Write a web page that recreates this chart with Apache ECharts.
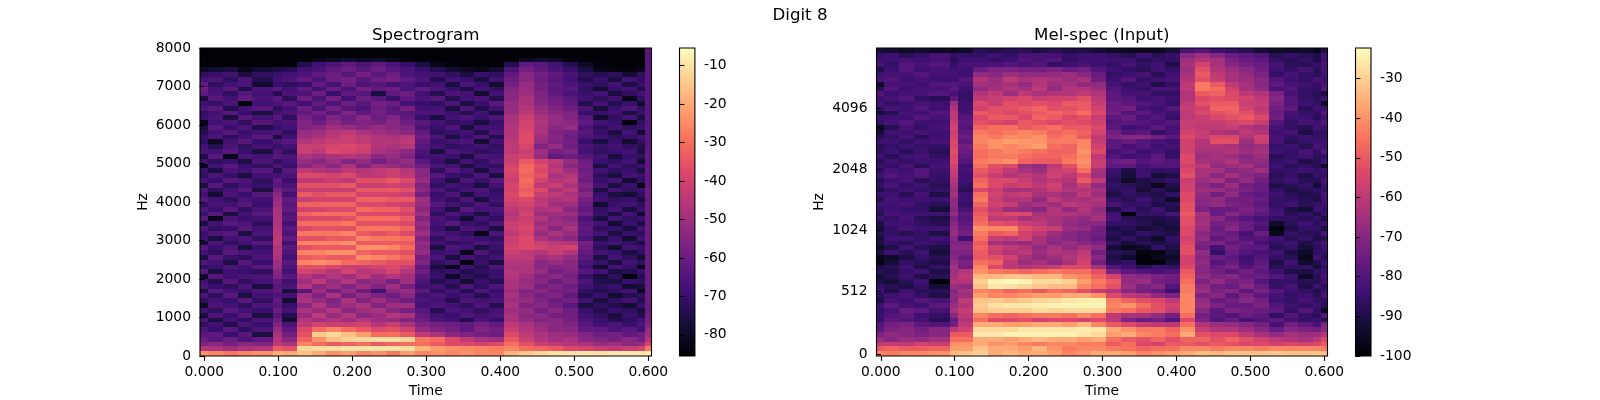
<!DOCTYPE html>
<html><head><meta charset="utf-8">
<style>html,body{margin:0;padding:0;background:#fff}#c{width:1600px;height:400px}</style>
<script src="https://cdn.jsdelivr.net/npm/echarts@6/dist/echarts.min.js"></script>
</head><body><div id="c"></div>
<script>
const figureTitle = "Digit 8";
const specTitle = "Spectrogram";
const melTitle = "Mel-spec (Input)";
const timeTicks = [0,0.1,0.2,0.3,0.4,0.5,0.6];
const timeEdges = [-0.0058,0.005,0.025,0.045,0.065,0.093,0.105,0.125,0.145,0.165,0.185,0.205,0.225,0.245,0.265,0.285,0.305,0.325,0.345,0.365,0.385,0.405,0.425,0.445,0.465,0.485,0.505,0.525,0.545,0.565,0.585,0.595,0.6043];
const specHzTicks = [0,1000,2000,3000,4000,5000,6000,7000,8000];
const specRowHz = 125;
const melRowPositions = [0.42,13.4,26.1,38.8,51.5];
const melTickLabels = ["0","512","1024","2048","4096"];
const specBarTicks = [-80,-70,-60,-50,-40,-30,-20,-10];
const melBarTicks = [-100,-90,-80,-70,-60,-50,-40,-30];
const specRange = [-85.5,-5.4];
const melRange = [-100,-22.3];
const magma = ["#000004","#140e36","#3b0f70","#641a80","#8c2981","#b73779","#de4968","#f7705c","#fe9f6d","#fecf92","#fcfdbf"];
// decibels below full scale, rows from the top of each plot, columns follow timeEdges
const specDbBelow = [
[85,85,85,85,85,85,85, 85,85,85,85,85,85,85,85,85, 85,85,85,85,85, 85,85,85,85,85,85, 85,85,85,85,64],
[85,85,85,85,85,85,85, 85,85,85,85,85,85,85,85,85, 85,85,85,85,85, 85,85,85,85,85,85, 85,85,85,85,64],
[85,85,85,85,85,85,85, 85,82,80,78,80,79,82,84,85, 85,85,85,85,85, 85,80,78,80,84,85, 85,85,85,85,64],
[85,85,85,85,85,85,85, 74,68,66,62,66,62,66,70,76, 82,84,85,85,85, 74,62,64,68,74,80, 84,85,85,85,64],
[80,78,76,82,78,76,74, 68,66,62,60,64,60,64,66,70, 74,78,80,82,78, 66,58,62,66,70,76, 82,84,84,82,64],
[72,70,68,76,72,70,68, 66,62,60,64,58,64,60,66,68, 68,72,76,70,72, 62,54,58,62,66,72, 74,72,78,72,64],
[68,66,72,66,74,68,66, 62,66,60,58,64,60,58,62,66, 74,68,70,76,68, 60,54,60,64,68,74, 70,76,68,72,64],
[62,72,68,66,78,70,72, 70,62,68,60,66,64,68,66,70, 68,76,66,70,78, 58,52,58,62,66,70, 72,68,76,70,64],
[60,68,64,74,66,64,68, 62,68,60,66,58,62,60,66,62, 66,70,76,68,72, 56,51,58,64,64,72, 78,70,68,76,64],
[62,66,72,64,68,74,66, 66,60,70,62,64,76,62,60,68, 74,66,68,78,68, 54,50,56,62,66,70, 68,76,72,68,64],
[76,64,68,62,66,64,72, 60,66,58,68,60,64,70,62,66, 64,74,68,66,74, 54,48,56,60,64,68, 72,68,82,72,64],
[68,70,66,84,68,66,64, 68,62,66,60,64,58,60,68,70, 72,66,76,70,64, 52,48,54,58,62,74, 68,74,70,78,64],
[66,64,74,68,64,72,68, 60,66,58,64,66,60,64,58,68, 68,76,66,74,68, 52,46,52,56,60,66, 76,70,66,72,64],
[72,68,64,70,76,68,66, 62,58,64,56,62,58,62,64,66, 66,70,74,68,76, 50,44,50,54,56,70, 70,68,76,70,64],
[70,66,76,64,68,64,72, 58,62,56,60,54,60,56,62,70, 76,68,66,70,66, 48,42,48,52,56,64, 78,72,68,76,64],
[82,68,66,72,64,68,66, 56,60,54,58,56,58,54,60,64, 68,72,70,76,70, 48,40,46,52,54,62, 68,70,84,72,64],
[76,64,70,66,74,70,68, 56,54,50,52,54,52,54,56,66, 70,66,76,68,68, 46,40,48,54,52,66, 72,68,72,70,64],
[74,68,64,70,68,66,72, 52,50,46,44,48,50,52,54,62, 72,70,68,74,66, 46,38,48,56,58,64, 70,76,68,78,64],
[70,66,72,68,64,76,68, 50,48,44,42,44,46,48,46,60, 66,76,70,66,74, 46,37,50,54,60,66, 68,72,70,68,64],
[72,80,68,64,70,66,64, 46,44,42,42,44,46,46,44,62, 70,68,66,78,68, 44,37,52,56,58,70, 76,70,78,72,64],
[68,74,66,72,68,70,68, 42,42,40,38,40,46,48,46,64, 68,72,70,68,72, 44,39,56,52,60,66, 70,68,72,74,64],
[66,68,64,70,76,66,72, 42,44,38,40,42,48,50,54,66, 76,66,68,72,70, 44,42,50,58,56,68, 72,70,68,76,62],
[76,64,82,66,68,64,66, 48,50,48,46,48,54,52,56,68, 68,70,76,66,68, 42,40,52,62,60,64, 68,76,70,72,62],
[68,72,70,76,66,72,68, 52,54,50,56,52,58,54,52,64, 70,76,68,72,66, 42,34,40,44,52,60, 70,72,68,78,62],
[82,68,64,70,72,66,70, 54,50,54,48,56,50,52,54,60, 66,68,76,70,72, 40,31,36,46,54,58, 76,68,72,70,62],
[70,76,66,68,64,74,64, 44,46,48,44,46,44,42,46,54, 72,64,68,76,68, 38,30,38,44,50,60, 68,72,70,76,62],
[72,66,70,76,68,68,66, 38,38,40,38,44,44,42,44,54, 64,70,72,66,76, 40,32,36,48,46,58, 72,76,68,70,62],
[68,70,64,66,72,62,70, 44,44,42,44,36,36,34,38,52, 68,76,66,70,64, 42,30,40,46,44,60, 70,68,78,72,62],
[76,64,72,68,70,64,66, 36,36,36,34,42,42,40,42,56, 72,68,70,76,68, 39,32,44,42,48,56, 68,76,70,82,62],
[66,72,68,64,76,58,64, 42,42,42,42,34,34,34,36,54, 66,72,68,66,72, 40,34,38,48,44,58, 76,68,72,70,60],
[68,78,66,70,64,54,68, 34,36,34,34,40,40,40,42,58, 70,66,76,68,70, 38,32,42,44,48,54, 70,76,78,72,60],
[64,68,72,66,68,52,62, 42,40,40,40,32,32,34,34,50, 68,72,66,76,68, 40,38,44,48,46,58, 68,72,70,76,60],
[72,66,68,64,70,50,64, 32,32,32,32,38,38,40,42,52, 64,68,72,66,72, 42,40,44,50,50,60, 78,70,68,72,60],
[66,70,64,72,66,48,62, 40,40,38,38,30,32,32,36,54, 68,76,64,68,66, 44,42,48,46,54,62, 72,68,76,70,60],
[70,64,76,68,64,48,66, 32,30,30,30,38,38,38,40,50, 72,66,70,76,68, 46,40,50,50,50,60, 70,76,68,78,60],
[64,82,66,70,68,48,64, 38,38,38,36,30,30,30,34,56, 66,70,78,68,72, 44,42,46,52,54,66, 76,68,72,70,60],
[76,68,64,66,72,47,68, 30,30,30,28,36,36,36,38,52, 68,64,70,72,66, 42,40,50,50,52,64, 68,78,70,76,60],
[66,72,70,64,68,46,64, 38,36,36,36,28,28,28,32,54, 70,76,66,68,76, 42,38,48,54,48,62, 72,70,76,68,60],
[70,66,64,76,66,45,66, 28,28,28,26,34,36,34,38,50, 66,68,72,82,66, 44,40,52,48,52,64, 68,76,70,72,60],
[68,76,68,66,72,44,62, 36,36,34,34,26,28,28,30,56, 72,66,68,70,72, 42,38,48,52,54,66, 76,70,78,68,60],
[78,66,72,68,64,44,68, 26,26,26,24,34,34,34,34,52, 68,72,70,66,68, 42,38,42,44,46,58, 70,68,72,76,60],
[64,70,66,76,70,46,64, 36,34,34,34,24,24,26,30,54, 76,66,68,76,70, 40,38,40,42,40,60, 72,78,68,70,60],
[68,72,64,66,68,46,66, 26,26,24,24,32,34,34,36,52, 70,68,82,66,72, 42,44,46,42,46,62, 68,70,76,72,60],
[76,64,70,72,66,48,68, 34,32,34,34,24,26,28,32,58, 66,76,68,72,68, 44,44,50,48,52,64, 76,68,72,78,60],
[66,68,76,64,70,50,64, 26,24,26,30,32,34,36,36,56, 72,68,84,70,76, 46,46,54,52,54,66, 70,76,68,72,60],
[72,70,66,68,64,52,66, 36,36,38,42,42,40,38,42,62, 76,82,68,74,66, 48,48,54,56,54,68, 78,68,70,82,60],
[64,76,68,70,72,54,68, 40,42,46,40,46,44,40,46,60, 72,70,74,72,70, 46,48,52,58,56,64, 68,76,74,70,60],
[80,64,68,66,66,56,64, 46,50,46,50,44,50,46,50,64, 70,80,72,74,70, 46,50,56,54,58,70, 76,72,84,74,60],
[68,74,64,72,68,62,68, 50,44,52,46,54,52,58,50,66, 74,70,78,70,74, 48,52,54,60,56,66, 74,76,70,72,60],
[66,70,72,66,76,64,66, 46,54,50,56,50,56,50,58,68, 68,74,66,72,66, 48,50,58,56,60,68, 72,70,78,76,60],
[76,64,68,70,66,62,76, 64,50,58,52,60,68,54,52,64, 72,68,74,66,70, 50,56,54,58,58,72, 74,72,68,82,60],
[66,72,64,76,68,66,68, 50,56,48,58,52,56,60,54,68, 66,70,68,74,68, 48,54,58,56,62,74, 70,78,74,72,60],
[72,68,70,64,72,62,78, 48,52,56,48,56,50,56,60,66, 68,74,66,68,66, 50,52,56,60,58,68, 76,72,68,74,60],
[80,66,68,72,66,64,70, 54,46,54,50,48,56,50,50,68, 66,68,72,66,74, 48,56,54,58,64,76, 72,74,78,70,60],
[68,72,64,68,70,60,68, 48,52,46,54,50,48,54,58,64, 74,66,68,72,68, 50,52,58,54,60,70, 74,70,72,76,60],
[76,66,70,64,76,64,74, 52,44,52,46,54,52,46,48,62, 68,70,66,68,66, 48,54,54,58,58,68, 72,76,70,74,58],
[66,76,68,72,66,60,78, 46,50,46,50,46,50,52,56,60, 66,68,74,66,70, 48,52,56,54,58,66, 70,74,72,68,58],
[72,68,74,66,70,56,66, 44,40,42,42,40,46,42,48,56, 58,60,62,58,62, 44,48,52,54,56,64, 68,66,70,66,56],
[66,70,64,72,66,52,62, 38,30,26,30,34,38,36,40,52, 56,58,62,56,58, 42,46,50,54,54,62, 62,66,64,68,52],
[64,62,70,64,76,48,58, 36,14,12,16,22,30,30,34,44, 48,54,56,58,60, 38,44,48,50,52,56, 60,58,62,60,50],
[60,64,60,66,62,46,54, 32,24,16,13,12,11,11,13,28, 30,38,44,48,50, 34,42,46,50,48,54, 56,58,54,58,46],
[56,54,58,54,56,44,48, 26,30,34,32,30,34,32,30,30, 34,38,38,40,38, 30,36,42,44,46,48, 52,50,54,52,40],
[46,48,50,48,46,34,36, 12,11,11,10,10,10,10,11,18, 22,24,25,26,27, 26,30,32,34,38,40, 42,44,42,40,28],
[24,26,28,26,24,18,20, 16,20,24,22,26,24,28,22,26, 24,26,24,26,26, 18,14,12,10,10,9, 10,9,9,9,8]
];
const melDbBelow = [
[92,93,94,93,95,96,94, 88,90,88,88,90,88,90,90,92, 94,95,96,96,92, 82,80,84,86,88,92, 94,95,94,96,90],
[86,84,88,86,82,86,86, 86,84,86,82,82,82,86,84,84, 86,88,84,88,86, 70,66,70,76,78,80, 88,86,88,90,84],
[84,84,82,84,82,88,84, 84,86,84,80,82,80,86,84,84, 84,84,88,86,86, 66,62,64,72,76,78, 86,88,86,90,84],
[82,86,80,82,80,86,82, 82,82,80,82,80,86,84,82,84, 86,82,86,84,90, 64,56,64,70,74,76, 82,88,88,86,82],
[90,84,80,84,82,84,84, 76,72,72,74,74,72,76,74,80, 84,86,88,84,86, 66,52,62,66,70,74, 84,86,82,88,82],
[84,82,82,80,82,82,84, 68,70,66,68,68,68,66,70,76, 86,84,82,88,84, 64,50,60,64,68,72, 86,82,86,88,84],
[82,80,84,82,84,84,80, 62,66,60,64,62,64,66,64,74, 84,80,86,84,82, 62,52,58,64,66,70, 80,84,86,82,84],
[94,82,82,84,80,80,82, 64,66,64,68,62,66,64,68,68, 82,86,84,90,86, 60,44,50,60,64,70, 78,82,84,86,82],
[88,80,84,82,82,78,84, 68,64,62,64,60,68,62,62,66, 80,84,86,82,82, 60,44,46,56,64,68, 82,80,86,86,80],
[80,84,82,82,80,82,86, 62,60,66,60,64,62,62,60,62, 78,82,82,86,86, 62,50,48,54,60,62, 72,82,86,88,90],
[84,82,80,86,88,78,86, 60,58,56,54,58,56,56,52,60, 78,80,84,82,84, 62,54,52,54,56,60, 70,80,86,88,84],
[82,86,84,82,84,66,84, 54,58,52,54,52,54,50,50,58, 76,78,80,82,86, 60,52,50,50,58,58, 72,80,84,86,94],
[86,82,84,80,84,62,84, 56,52,52,50,48,52,52,50,56, 76,74,82,84,80, 58,56,48,48,56,60, 74,78,88,84,84],
[92,88,82,84,80,60,82, 50,52,54,52,50,48,50,46,54, 74,80,78,82,84, 60,54,52,50,52,58, 76,82,86,86,80],
[84,84,84,80,82,60,80, 54,50,50,54,48,50,54,52,58, 78,76,82,80,86, 60,58,54,52,50,54, 74,84,84,88,84],
[86,82,80,84,84,58,78, 52,54,56,50,52,54,52,54,56, 80,78,80,82,80, 58,58,58,56,54,58, 80,86,82,84,80],
[96,88,82,86,82,56,80, 48,46,46,50,48,46,50,50,54, 78,84,82,78,82, 58,60,60,58,62,64, 82,86,88,82,84],
[92,84,84,82,84,58,78, 44,46,44,42,44,48,46,48,56, 74,80,78,86,82, 56,58,62,64,60,62, 84,82,90,86,86],
[88,86,82,88,84,56,76, 42,44,41,42,40,46,44,50,60, 72,70,70,74,78, 54,58,54,54,62,56, 82,86,84,86,86],
[84,84,86,84,82,54,78, 42,40,38,39,40,44,44,42,58, 78,76,80,82,84, 56,62,52,52,66,58, 82,88,86,84,84],
[88,86,84,86,86,54,74, 44,40,42,40,38,46,48,42,56, 78,82,80,84,82, 56,62,62,64,68,66, 86,84,88,82,84],
[86,84,88,84,88,52,76, 46,44,42,44,46,48,48,40,54, 82,80,84,82,86, 56,64,64,62,66,64, 84,86,82,86,80],
[84,88,84,82,86,54,78, 46,44,44,46,48,48,46,42,60, 80,84,82,78,86, 54,66,64,66,70,66, 88,86,84,88,86],
[88,84,86,84,84,54,80, 44,42,40,48,50,50,44,40,58, 76,74,80,78,80, 54,64,66,62,68,68, 86,84,90,88,84],
[84,86,82,88,82,56,84, 46,52,54,66,68,60,52,42,58, 78,78,82,80,80, 56,60,68,66,64,70, 84,88,86,88,94],
[86,82,84,80,84,58,82, 50,54,60,64,66,58,56,46,64, 84,90,84,86,86, 54,64,64,70,68,66, 86,86,84,86,84],
[84,80,82,80,86,60,84, 52,58,62,60,62,56,60,54,66, 86,92,84,92,90, 52,64,70,64,70,72, 88,86,90,86,86],
[88,84,82,88,86,62,84, 48,54,54,58,62,60,62,50,60, 88,94,90,88,86, 58,66,64,72,68,74, 86,84,88,88,82],
[86,82,86,84,88,64,86, 46,54,58,56,60,56,64,58,68, 86,88,90,96,90, 56,68,72,66,74,76, 90,88,86,92,84],
[90,86,84,86,86,66,88, 54,58,64,64,62,58,62,62,64, 88,86,92,88,92, 56,66,66,70,72,76, 86,90,88,86,86],
[84,84,88,82,90,64,84, 46,56,60,58,64,64,66,60,66, 90,86,88,90,86, 54,68,74,68,76,78, 84,88,90,88,82],
[88,82,84,84,84,68,84, 44,58,62,62,68,60,64,64,62, 86,88,84,88,94, 54,70,68,74,74,76, 86,86,88,90,84],
[84,84,82,86,88,68,86, 48,56,58,66,64,66,60,62,64, 82,86,86,90,88, 52,70,68,72,74,78, 86,84,88,86,84],
[86,84,86,86,92,70,82, 52,60,66,68,70,62,68,62,68, 90,84,88,84,90, 52,72,76,76,72,76, 84,90,92,84,86],
[88,82,84,84,84,68,78, 50,56,54,54,64,62,62,64,66, 84,99,86,86,82, 50,64,76,70,74,78, 82,88,86,90,84],
[84,86,82,88,90,72,80, 48,60,60,64,62,64,66,68,64, 82,88,90,90,88, 52,66,70,76,80,82, 86,86,88,86,90],
[90,84,84,86,88,70,78, 46,52,54,58,60,64,68,70,70, 86,86,88,92,90, 52,64,74,72,76,80, 94,88,84,88,84],
[92,86,82,84,84,68,76, 40,42,42,52,56,58,66,68,74, 90,88,92,90,92, 54,66,76,70,76,82, 98,90,86,86,90],
[88,86,88,86,90,66,74, 44,50,48,56,60,66,70,72,74, 88,90,86,88,90, 54,70,74,76,82,76, 96,86,88,88,82],
[92,84,84,86,84,70,84, 46,58,60,56,64,68,70,72,76, 90,86,90,94,86, 56,68,78,74,80,80, 84,88,86,90,88],
[90,86,88,84,86,72,72, 50,64,66,68,64,70,66,70,72, 86,92,88,90,88, 54,72,72,78,76,82, 86,84,90,86,82],
[94,90,84,88,90,70,70, 48,56,60,62,68,64,68,64,68, 92,96,94,86,90, 52,74,82,74,78,78, 88,86,92,88,84],
[90,84,88,84,92,72,72, 50,58,62,60,66,62,64,60,74, 88,90,98,98,92, 52,68,86,76,80,82, 84,90,94,86,86],
[96,94,90,86,88,70,76, 50,52,56,64,68,66,62,58,70, 90,94,99,96,94, 56,70,76,78,84,80, 86,88,96,84,88],
[98,92,86,88,90,68,72, 46,48,60,66,64,68,64,56,74, 88,86,99,99,92, 56,68,80,76,82,78, 90,84,94,90,84],
[90,88,84,90,86,64,74, 42,54,60,62,60,58,54,54,64, 80,84,88,84,86, 54,70,76,72,80,76, 88,86,86,92,86],
[88,90,86,84,90,66,62, 40,44,46,48,46,44,46,46,52, 72,78,80,82,80, 50,70,74,78,74,78, 84,90,90,86,84],
[92,88,84,90,88,64,60, 34,34,32,32,34,34,40,42,48, 56,68,70,72,74, 48,68,72,70,76,76, 80,84,94,88,82],
[90,92,88,84,99,62,62, 30,24,23,24,28,28,30,38,44, 50,68,66,74,76, 46,72,68,74,72,80, 86,86,88,88,84],
[86,88,90,86,92,66,68, 32,26,27,29,31,33,33,42,46, 52,66,72,70,80, 44,68,74,76,70,76, 86,82,90,84,88],
[84,90,84,88,88,70,64, 42,44,48,46,50,46,48,52,58, 62,70,74,76,84, 44,66,72,70,78,72, 80,84,86,90,84],
[88,84,82,86,90,68,66, 38,42,42,40,38,38,36,36,40, 54,60,62,68,72, 42,72,70,78,72,78, 82,86,84,88,82],
[90,82,84,80,82,70,60, 32,31,33,31,29,28,26,25,25, 44,48,52,54,60, 42,68,76,74,70,74, 84,86,82,86,86],
[84,78,82,84,78,66,62, 31,27,26,26,25,24,24,24,24, 42,40,46,52,56, 42,66,72,76,76,72, 80,84,86,84,88],
[86,82,76,78,82,64,58, 32,30,30,30,28,29,28,28,28, 44,46,50,52,58, 42,70,78,72,74,76, 78,86,80,86,94],
[84,80,78,84,86,70,60, 42,46,48,46,44,44,46,42,46, 60,64,64,68,74, 46,74,78,80,76,78, 86,80,86,88,80],
[86,78,80,82,88,76,62, 46,54,54,52,56,54,54,56,54, 60,72,76,74,80, 54,72,80,76,82,80, 78,82,86,84,88],
[80,74,72,78,80,74,60, 36,36,38,38,36,36,38,34,42, 50,54,58,60,60, 46,62,66,68,70,74, 82,74,78,82,72],
[78,72,70,74,70,60,56, 28,28,28,26,26,26,26,25,26, 36,40,44,44,48, 40,58,62,62,66,70, 76,70,72,74,70],
[72,68,70,72,70,50,50, 26,26,24,24,24,24,24,26,28, 38,36,42,44,46, 36,52,54,54,60,64, 68,64,66,66,62],
[66,70,66,68,64,46,46, 36,36,38,36,34,36,36,38,36, 46,50,52,48,52, 48,48,52,48,52,56, 60,62,64,60,54],
[60,58,60,56,58,40,40, 36,40,38,42,44,42,42,44,44, 50,46,54,56,50, 50,52,50,52,54,54, 56,54,56,54,50],
[50,48,50,50,48,38,38, 32,36,36,38,34,40,44,42,42, 44,46,48,46,46, 42,42,44,42,42,44, 42,42,42,42,44],
[42,44,42,42,40,34,32, 30,36,34,36,36,38,42,40,36, 36,38,42,40,38, 36,33,34,32,32,32, 31,32,32,31,33]
];

const font = "DejaVu Sans";
const fs = 13.89;
function colorOf(db, range){
  const t = Math.max(0, Math.min(1, (db - range[0]) / (range[1] - range[0])));
  return echarts.color.lerp(t, magma);
}
function cellSeries(rows, yEdge, range, axisIndex){
  const data = [];
  rows.forEach((row, r) => row.forEach((v, c) => {
    data.push([timeEdges[c], timeEdges[c+1], yEdge(r), yEdge(r+1), -v]);
  }));
  return {
    type:'custom', xAxisIndex:axisIndex, yAxisIndex:axisIndex, coordinateSystem:'cartesian2d', z:-1,
    animation:false, progressive:0, silent:true, clip:true,
    encode:{x:[0,1], y:[2,3]}, data,
    renderItem(params, api){
      const a = api.coord([api.value(0), api.value(2)]);
      const b = api.coord([api.value(1), api.value(3)]);
      const x = Math.round(a[0]), y = Math.round(a[1]);
      return {type:'rect', shape:{x, y, width:Math.round(b[0])-x, height:Math.round(b[1])-y},
        style:{fill:colorOf(api.value(4), range)}};
    }
  };
}
function barSeries(range, axisIndex){
  const stops = magma.map((c,i)=>({offset:1-i/(magma.length-1), color:c}));
  return {
    type:'custom', xAxisIndex:axisIndex, yAxisIndex:axisIndex, coordinateSystem:'cartesian2d', z:-1,
    animation:false, silent:true, encode:{x:[0,1], y:[2,3]},
    data:[[0,1,range[1],range[0]]],
    renderItem(params, api){
      const a = api.coord([api.value(0), api.value(2)]);
      const b = api.coord([api.value(1), api.value(3)]);
      return {type:'rect', shape:{x:a[0], y:a[1], width:b[0]-a[0], height:b[1]-a[1]},
        style:{fill:new echarts.graphic.LinearGradient(0,0,0,1,stops)}};
    }
  };
}
const tick = {show:true, length:4.9, lineStyle:{color:'#000', width:1.1}, inside:false};
const labelStyle = {color:'#000', fontFamily:font, fontSize:fs};
const nameStyle = {color:'#000', fontFamily:font, fontSize:fs};
function gridBox(left, width){
  return {left, top:48, width, height:308, show:true, backgroundColor:'transparent', borderColor:'#000', borderWidth:1.1, containLabel:false, outerBoundsMode:'none'};
}
function timeAxis(g){
  return {type:'value', gridIndex:g, min:timeEdges[0], max:timeEdges[timeEdges.length-1], name:'Time',
    nameLocation:'middle', nameGap:28, nameTextStyle:nameStyle, splitLine:{show:false}, axisLine:{show:false},
    axisTick:Object.assign({customValues:timeTicks}, tick),
    axisLabel:Object.assign({customValues:timeTicks, margin:9, formatter:v=>v.toFixed(3)}, labelStyle)};
}
function hiddenX(g){
  return {type:'value', gridIndex:g, min:0, max:1, show:false, splitLine:{show:false}};
}
function barAxis(g, range, ticks){
  return {type:'value', gridIndex:g, position:'right', min:range[0], max:range[1], splitLine:{show:false}, axisLine:{show:false},
    axisTick:Object.assign({customValues:ticks}, tick),
    axisLabel:Object.assign({customValues:ticks, margin:9, formatter:v=>String(v)}, labelStyle)};
}
const option = {
  backgroundColor:'#fff', animation:false,
  title:[
    {text:figureTitle, left:795, top:2, textAlign:'center', textStyle:{fontFamily:font, fontSize:16.67, fontWeight:'normal', color:'#000'}},
    {text:specTitle, left:420.75, top:22, textAlign:'center', textStyle:{fontFamily:font, fontSize:16.67, fontWeight:'normal', color:'#000'}},
    {text:melTitle, left:1096.75, top:22, textAlign:'center', textStyle:{fontFamily:font, fontSize:16.67, fontWeight:'normal', color:'#000'}}
  ],
  grid:[gridBox(200,451.5), gridBox(679.5,15.4), gridBox(876.5,451), gridBox(1355.5,15.5)],
  xAxis:[timeAxis(0), hiddenX(1), timeAxis(2), hiddenX(3)],
  yAxis:[
    {type:'value', gridIndex:0, min:0, max:8000, name:'Hz', nameLocation:'middle', nameGap:50, nameTextStyle:nameStyle,
     splitLine:{show:false}, axisLine:{show:false},
     axisTick:Object.assign({customValues:specHzTicks}, tick),
     axisLabel:Object.assign({customValues:specHzTicks, margin:9, formatter:v=>String(v)}, labelStyle)},
    barAxis(1, specRange, specBarTicks),
    {type:'value', gridIndex:2, min:0, max:64, name:'Hz', nameLocation:'middle', nameGap:50, nameTextStyle:nameStyle,
     splitLine:{show:false}, axisLine:{show:false},
     axisTick:Object.assign({customValues:melRowPositions}, tick),
     axisLabel:Object.assign({customValues:melRowPositions, margin:9, formatter:v=>melTickLabels[melRowPositions.indexOf(v)]}, labelStyle)},
    barAxis(3, melRange, melBarTicks)
  ],
  series:[
    cellSeries(specDbBelow, r=>8000-specRowHz*r, specRange, 0),
    barSeries(specRange, 1),
    cellSeries(melDbBelow, r=>64-r, melRange, 2),
    barSeries(melRange, 3)
  ]
};
const chart = echarts.init(document.getElementById('c'), null, {renderer:'canvas'});
chart.setOption(option);
</script></body></html>
